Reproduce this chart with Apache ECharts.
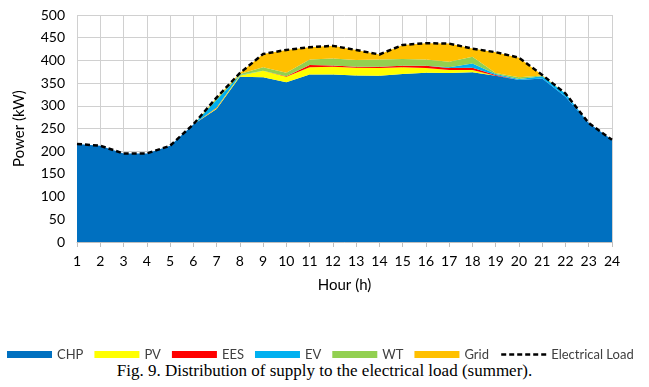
<!DOCTYPE html>
<html>
<head>
<meta charset="utf-8">
<script src="https://cdn.jsdelivr.net/npm/echarts@6/dist/echarts.min.js"></script>
<style>
  html, body { margin: 0; padding: 0; background: #fff; }
  #caption { position: absolute; left: 0; top: 361px; width: 649px; text-align: center;
    font-family: "Liberation Serif", "DejaVu Serif", serif; font-size: 17px; color: #000; }
</style>
</head>
<body>
<div id="chart" style="position:absolute;left:0;top:0;width:649px;height:361px;"></div>
<div id="caption">Fig. 9. Distribution of supply to the electrical load (summer).</div>
<script>
// Hourly supply mix (kW) for the summer day
const hours = ['1','2','3','4','5','6','7','8','9','10','11','12','13','14','15','16','17','18','19','20','21','22','23','24'];
const chp  = [216,212,195,195,212,259,293,364,363,352,369,369,367,366,370,373,372,374,366,357,360,320,262,225];
const pv   = [0,0,0,0,0,0,2,3,14,12,16,17,17,17,15,10,7,5,0,0,0,0,0,0];
const ees  = [0,0,0,0,0,0,1,0,0,1,5,3,2,3,3,5,4,5,2,0,0,0,0,0];
const ev   = [0,0,0,0,0,0,17,1,0,0,0,0,0,0,0,0,2,9,2,2,5,7,0,0];
const wt   = [0,0,0,0,0,0,3,2,8,8,12,15,15,16,15,14,12,15,2,4,2,0,0,0];
const grid = [0,0,0,0,0,0,2,2,29,50,27,28,22,11,31,36,40,18,46,43,1,0,0,0];
const load = [216,212,195,195,212,259,318,372,414,423,429,432,423,413,434,438,437,426,418,406,368,327,262,225];

const font = 'Lato, "Open Sans", sans-serif';
const chart = echarts.init(document.getElementById('chart'));

function areaSeries(name, data, color) {
  return {
    name, type: 'line', stack: 'supply', data,
    symbol: 'none', lineStyle: { width: 0 },
    areaStyle: { color, opacity: 1 }, itemStyle: { color },
    emphasis: { disabled: true }
  };
}

chart.setOption({
  animation: false,
  grid: { left: 77, right: 37, top: 15, bottom: 119 },
  legend: {
    left: 2, top: 343, width: 647,
    itemWidth: 45, itemHeight: 7, itemGap: 11,
    textStyle: { fontFamily: font, fontSize: 13, color: '#404040' },
    data: [
      { name: 'CHP', icon: 'rect' }, { name: 'PV', icon: 'rect' },
      { name: 'EES', icon: 'rect' }, { name: 'EV', icon: 'rect' },
      { name: 'WT', icon: 'rect' }, { name: 'Grid', icon: 'rect' },
      { name: 'Electrical Load',
        itemStyle: { color: 'rgba(0,0,0,0)', borderColor: 'rgba(0,0,0,0)', borderWidth: 0 },
        lineStyle: { color: '#000', width: 2.5, type: [5, 3] } }
    ]
  },
  xAxis: {
    type: 'category', data: hours, boundaryGap: false,
    name: 'Hour (h)', nameLocation: 'middle', nameGap: 36,
    nameTextStyle: { fontFamily: font, fontSize: 15, color: '#000' },
    axisLine: { lineStyle: { color: '#bfbfbf' } },
    axisTick: { show: true, lineStyle: { color: '#bfbfbf' } },
    axisLabel: { fontFamily: font, fontSize: 14, color: '#000', margin: 12 },
    splitLine: { show: true, lineStyle: { color: '#d0d0d0', width: 1 } }
  },
  yAxis: {
    type: 'value', min: 0, max: 500, interval: 50,
    name: 'Power (kW)', nameLocation: 'middle', nameGap: 50,
    nameTextStyle: { fontFamily: font, fontSize: 15, color: '#000' },
    axisLine: { show: false }, axisTick: { show: false },
    axisLabel: { fontFamily: font, fontSize: 14, color: '#000', margin: 12 },
    splitLine: { lineStyle: { color: '#d0d0d0', width: 1 } }
  },
  series: [
    areaSeries('CHP', chp, '#0070C0'),
    areaSeries('PV', pv, '#FFFF00'),
    areaSeries('EES', ees, '#FF0000'),
    areaSeries('EV', ev, '#00B0F0'),
    areaSeries('WT', wt, '#92D050'),
    areaSeries('Grid', grid, '#FFC000'),
    {
      name: 'Electrical Load', type: 'line', data: load, symbol: 'none',
      lineStyle: { color: '#000', width: 2.5, type: [5, 3] },
      itemStyle: { color: '#000' }, z: 5
    }
  ]
});
</script>
</body>
</html>
